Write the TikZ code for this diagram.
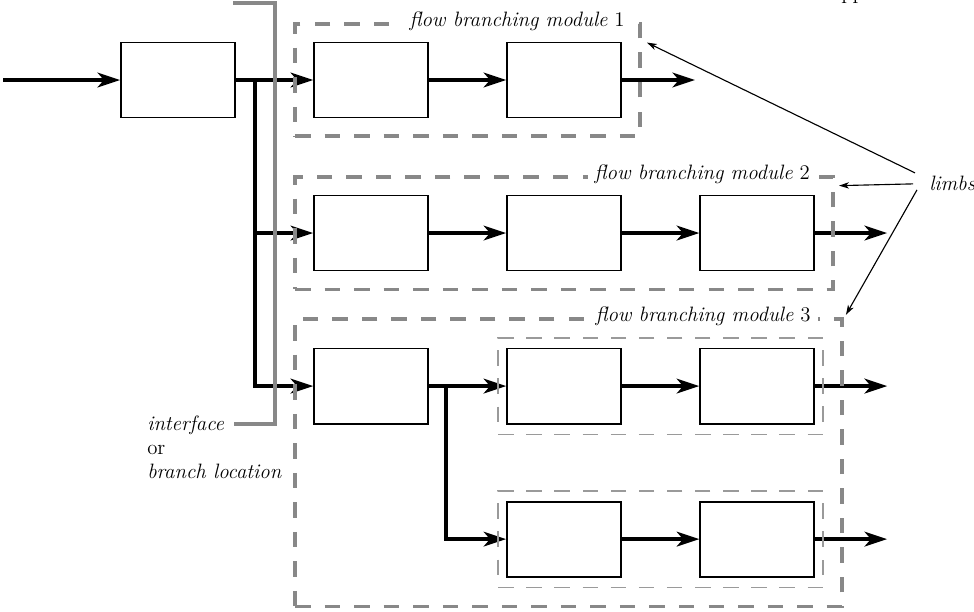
\documentclass[tikz,border=0pt]{standalone}
\usetikzlibrary{arrows.meta, positioning, fit}
\definecolor{framegray}{RGB}{136,136,136}
\newcommand{\diagfont}{\fontsize{14.8}{16.8}\selectfont}

\begin{document}
\begin{tikzpicture}[
		x=0.025cm, y=-0.025cm,
		node distance=4.825cm,
		blockbox/.style={rectangle,draw,line width=1.3pt,minimum width=2.85cm,minimum height=1.875cm,inner sep=0pt},
		flow/.style={line width=2.4pt,-{Stealth[length=16pt,width=10.5pt,inset=4.5pt]}},
		modframe/.style={draw=framegray,line width=2.8pt,dash pattern=on 11pt off 10pt,inner sep=0.45cm},
		limbframe/.style={draw=framegray!85,line width=1.3pt,dash pattern=on 11pt off 9pt,inner xsep=0.2cm,inner ysep=0.25cm},
		modlabel/.style={fill=white,inner xsep=5pt,inner ysep=2pt,anchor=base east,font=\diagfont},
		pointer/.style={line width=0.8pt,-{Stealth[length=7pt,width=4.5pt,inset=2pt]}}
		]
		\useasboundingbox (0,0) rectangle (974,612);

		\node[blockbox](in) at (178,80){};
		\node[blockbox, right of = in](A1){};
		\node[blockbox, right of = A1](A2){};
		\node[blockbox, below of = A1, yshift = 1cm](B1){};
		\node[blockbox, right of = B1](B2){};
		\node[blockbox, right of = B2](B3){};
		\node[blockbox, below of = B1, yshift = 1cm](C1){};
		\node[blockbox, right of = C1](C2){};
		\node[blockbox, right of = C2](C3){};
		\node[blockbox, below of = C2, yshift = 1cm](D2){};
		\node[blockbox, right of = D2](D3){};

		\coordinate (src) at ([shift={(-117,0)}]in.west);
		\coordinate (split) at ([shift={(19,0)}]in.east);
		\coordinate (fork) at ([shift={(17,0)}]C1.east);
		\coordinate (outA) at ([shift={(73,0)}]A2.east);
		\coordinate (outB) at ([shift={(72,0)}]B3.east);
		\coordinate (outC) at ([shift={(72,0)}]C3.east);
		\coordinate (outD) at ([shift={(72,0)}]D3.east);

		\draw[flow] (src) -- (in.west);
		\draw[flow] (in.east) -- (A1.west);
		\draw[flow] (split) |- (B1.west);
		\draw[flow] (split) |- (C1.west);
		\draw[flow] (A1.east) -- (A2.west);
		\draw[flow] (A2.east) -- (outA);
		\draw[flow] (B1.east) -- (B2.west);
		\draw[flow] (B2.east) -- (B3.west);
		\draw[flow] (B3.east) -- (outB);
		\draw[flow] (C1.east) -- (C2.west);
		\draw[flow] (fork) |- (D2.west);
		\draw[flow] (C2.east) -- (C3.west);
		\draw[flow] (C3.east) -- (outC);
		\draw[flow] (D2.east) -- (D3.west);
		\draw[flow] (D3.east) -- (outD);

		\node[modframe, fit=(A1)(A2)](M1){};
		\node[modframe, fit=(B1)(B2)(B3)](M2){};
		\node[limbframe, fit=(C2)(C3)](L1){};
		\node[limbframe, fit=(D2)(D3)](L2){};
		\node[modframe, fit=(C1)(L1)(L2)](M3){};

		\node[modlabel](M1label) at ([shift={(-10,5)}]M1.north east){\textit{flow branching module} 1};
		\node[modlabel](M2label) at ([shift={(-18,5)}]M2.north east){\textit{flow branching module} 2};
		\node[modlabel](M3label) at ([shift={(-26,5)}]M3.north east){\textit{flow branching module} 3};

		\node[anchor=base west, inner sep=0pt, font=\diagfont](limbs) at (929,190){\textit{limbs}};
		\draw[pointer] ([shift={(-14,-10)}]limbs.west) -- ([shift={(5,21)}]M1.north east);
		\draw[pointer] ([shift={(-16,1)}]limbs.west) -- ([shift={(4,11)}]M2.north east);
		\draw[pointer] ([shift={(-12,7)}]limbs.west) -- ([shift={(2,-2)}]M3.north east);

		\node[anchor=north west, inner sep=0pt, align=left, font=\diagfont](iface) at (147,416){\textit{interface}\\or\\\textit{branch location}};
		\draw[framegray, line width=2.8pt] (233,3) -- (275,3) -- (275,424) -- (234,424);

		\node[anchor=base west, inner sep=0pt, font=\diagfont](pagehead) at (841,-1){pp};
	\end{tikzpicture}
\end{document}
